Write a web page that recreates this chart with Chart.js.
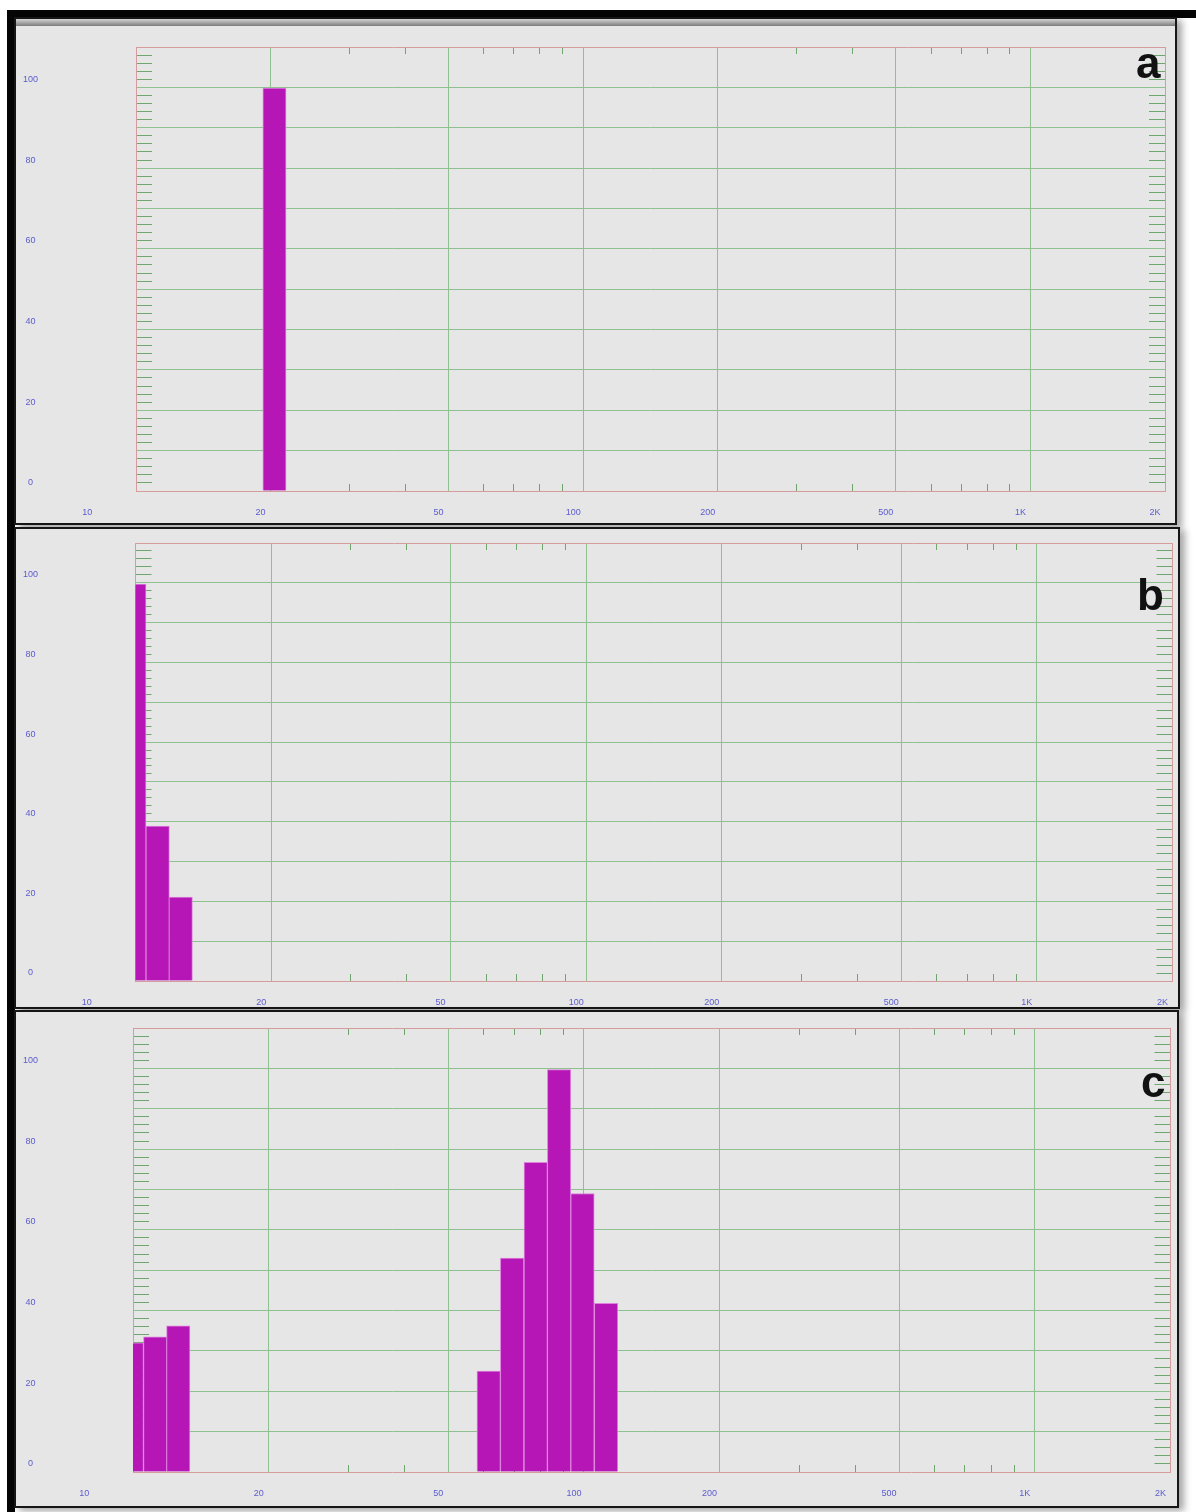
<!DOCTYPE html>
<html>
<head>
<meta charset="utf-8">
<script src="https://cdn.jsdelivr.net/npm/chart.js@4.4.0/dist/chart.umd.min.js"></script>
<style>
html,body{margin:0;padding:0;background:#ffffff;}
body{width:1196px;height:1512px;position:relative;overflow:hidden;}
.band{position:absolute;background:#050505;}
.panel{position:absolute;box-sizing:border-box;border:2px solid #161616;background:#e6e6e6;box-shadow:5px 3px 7px rgba(0,0,0,0.35);}
.panel canvas{position:absolute;left:0;top:0;}
.hdr{position:absolute;left:0;top:0;right:0;height:7px;background:linear-gradient(#d4d4d4,#7c7c7c);}
.letter{position:absolute;font:bold 44px "Liberation Sans",Arial,sans-serif;line-height:44px;color:#111;}
</style>
</head>
<body>
<div class="band" style="left:7px;top:10px;width:1189px;height:8px;"></div>
<div class="band" style="left:7px;top:10px;width:8px;height:1502px;"></div>

<div class="panel" id="pa" style="left:14px;top:17px;width:1163px;height:508px;"><div class="hdr"></div><canvas id="ca" width="1159" height="504"></canvas></div>
<div class="panel" id="pb" style="left:14px;top:527px;width:1166px;height:482px;"><canvas id="cb" width="1162" height="478"></canvas></div>
<div class="panel" id="pc" style="left:14px;top:1010px;width:1165px;height:498px;"><canvas id="cc" width="1161" height="494"></canvas></div>

<div class="letter" style="left:1136px;top:41px;">a</div>
<div class="letter" style="left:1137px;top:573px;">b</div>
<div class="letter" style="left:1141px;top:1060px;">c</div>

<script>
// ---- data ----
const xTickValues = [10, 20, 50, 100, 200, 500, 1000, 2000];
const xTickLabels = ['10', '20', '50', '100', '200', '500', '1K', '2K'];
const xMinorTicks = [30, 40, 60, 70, 80, 90, 300, 400, 600, 700, 800, 900];
const yMax = 110;

// panel a
const sizeA = [20.4];
const intensityA = [99.8];
// panel b
const sizeB = [9.94, 11.2, 12.6];
const intensityB = [99.7, 38.9, 21.1];
// panel c
const sizeC = [9.94, 11.2, 12.6, 61.5, 69.3, 78.2, 88.1, 99.3, 112.0];
const intensityC = [32.0, 33.5, 36.2, 25.0, 53.0, 76.7, 99.7, 69.0, 41.8];

// ---- styles ----
const gridGreen = '#8fc08f';
const tickGreen = '#6fa66f';
const borderRed = '#d49c9c';
const labelBlue = '#5b5bd0';
const barFill = '#b516b5';
const barEdge = '#de82de';
const labelFont = { family: 'Liberation Sans', size: 9 };
const NONE = 'rgba(0,0,0,0)';
const yLabelWidth = 22;
const firstLabelPad = ' '.repeat(31); // the "10" label sits well left of its tick in the reference

function makeChart(canvasId, sizes, values, g) {
  const yMinorValues = [];
  for (let v = 2; v < yMax; v += 2) { if (v % 10 !== 0) yMinorValues.push(v); }
  const logBase = { type: 'logarithmic', min: 10, max: 2000, offset: false };
  return new Chart(document.getElementById(canvasId), {
    type: 'bar',
    data: {
      datasets: [{
        data: sizes.map((s, i) => ({ x: s, y: values[i] })),
        backgroundColor: barFill,
        borderColor: barEdge,
        borderWidth: 1,
        borderSkipped: 'bottom',
        barThickness: g.bar,
        clip: 0
      }]
    },
    options: {
      responsive: false,
      animation: false,
      plugins: { legend: { display: false }, tooltip: { enabled: false } },
      layout: { padding: { left: 0, top: g.top, right: g.right, bottom: 0 } },
      scales: {
        x: Object.assign({}, logBase, {
          position: 'bottom', weight: 1,
          afterBuildTicks: s => { s.ticks = xTickValues.map(v => ({ value: v })); },
          afterFit: s => { s.height = g.bottom - g.xPad; },
          grid: { offset: false, color: c => (c.tick && (c.tick.value === 10 || c.tick.value === 2000)) ? NONE : gridGreen, drawTicks: false, lineWidth: 1 },
          border: { display: false },
          ticks: { autoSkip: false, maxRotation: 0, padding: 0, labelOffset: -10, color: labelBlue, font: labelFont,
                   callback: (v, i) => i === 0 ? xTickLabels[i] + firstLabelPad : xTickLabels[i] }
        }),
        xMinor: Object.assign({}, logBase, {
          position: 'bottom', weight: 0, axis: 'x',
          afterBuildTicks: s => { s.ticks = xMinorTicks.map(v => ({ value: v })); },
          afterFit: s => { s.height = g.xPad; },
          grid: { offset: false, drawOnChartArea: false, drawTicks: true, tickLength: -7, color: tickGreen, tickColor: tickGreen },
          border: { display: true, color: borderRed, width: 1 },
          ticks: { display: false }
        }),
        xTop: Object.assign({}, logBase, {
          position: 'top', axis: 'x',
          afterBuildTicks: s => { s.ticks = xMinorTicks.map(v => ({ value: v })); },
          afterFit: s => { s.height = 0; },
          grid: { offset: false, drawOnChartArea: false, drawTicks: true, tickLength: -7, color: tickGreen, tickColor: tickGreen },
          border: { display: true, color: borderRed, width: 1 },
          ticks: { display: false }
        }),
        y: {
          type: 'linear', position: 'left', weight: 1, min: 0, max: yMax,
          afterFit: s => { s.width = yLabelWidth; },
          grid: { color: c => (c.tick && (c.tick.value === 0 || c.tick.value === yMax)) ? NONE : gridGreen, drawTicks: false, lineWidth: 1 },
          border: { display: false },
          ticks: { stepSize: 10, autoSkip: false, padding: 0, crossAlign: 'center', labelOffset: -8,
                   color: labelBlue, font: labelFont,
                   callback: v => (v % 20 === 0 && v <= 100) ? String(v) : '' }
        },
        yMinor: {
          type: 'linear', position: 'left', weight: 0, axis: 'y', min: 0, max: yMax,
          afterBuildTicks: s => { s.ticks = yMinorValues.map(v => ({ value: v })); },
          afterFit: s => { s.width = g.left - yLabelWidth; },
          grid: { drawOnChartArea: false, drawTicks: true, tickLength: -16, color: tickGreen, tickColor: tickGreen },
          border: { display: true, color: borderRed, width: 1 },
          ticks: { display: false }
        },
        yRight: {
          type: 'linear', position: 'right', axis: 'y', min: 0, max: yMax,
          afterBuildTicks: s => { s.ticks = yMinorValues.map(v => ({ value: v })); },
          afterFit: s => { s.width = 0; },
          grid: { drawOnChartArea: false, drawTicks: true, tickLength: -16, color: tickGreen, tickColor: tickGreen },
          border: { display: true, color: borderRed, width: 1 },
          ticks: { display: false }
        }
      }
    }
  });
}

makeChart('ca', sizeA, intensityA, { left: 120, top: 28, right: 10, bottom: 32, xPad: 16, bar: 23.2 });
makeChart('cb', sizeB, intensityB, { left: 119.5, top: 14, right: 5, bottom: 26, xPad: 16, bar: 23.4 });
makeChart('cc', sizeC, intensityC, { left: 117, top: 16, right: 6.5, bottom: 34, xPad: 16, bar: 23.4 });
</script>
</body>
</html>
